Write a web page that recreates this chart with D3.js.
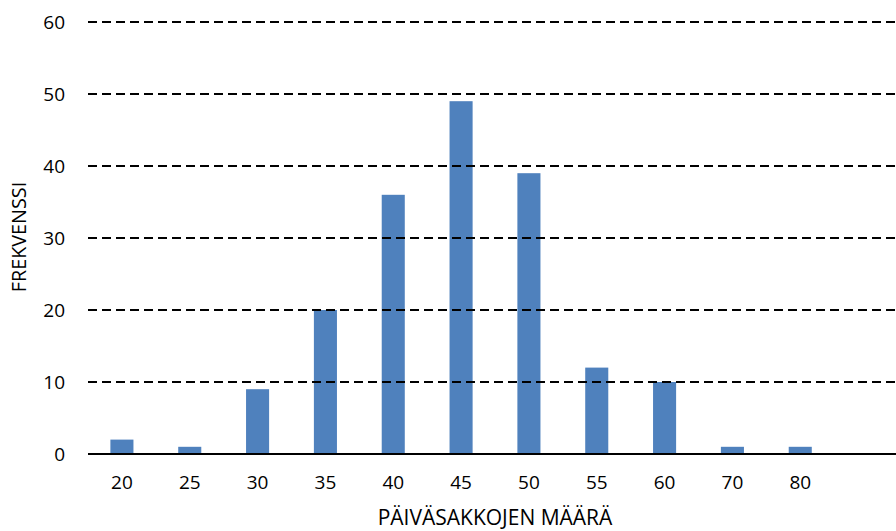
<!DOCTYPE html>
<html>
<head>
<meta charset="utf-8">
<script src="https://cdn.jsdelivr.net/npm/d3@7"></script>
<style>
  body { margin: 0; background: #fff; }
  svg { display: block; font-family: "Open Sans", sans-serif; }
</style>
</head>
<body>
<div id="chart"></div>
<script>
// data
var categories = ['20', '25', '30', '35', '40', '45', '50', '55', '60', '70', '80', ''];
var frequencies = [2, 1, 9, 20, 36, 49, 39, 12, 10, 1, 1, 0];
var yTicks = [0, 10, 20, 30, 40, 50, 60];

var width = 896
  , height = 531
  , margin = { top: 22, right: -6, bottom: 77, left: 88 }
;

var svg = d3.select('#chart').append('svg')
    .attr('width', width)
    .attr('height', height);

var x = d3.scaleBand()
    .domain(categories)
    .range([margin.left, width - margin.right])
    .paddingInner(0.66)
    .paddingOuter(0.33);

var y = d3.scaleLinear()
    .domain([0, 60])
    .range([height - margin.bottom, margin.top]);

// bars
svg.selectAll('rect.bar')
    .data(frequencies)
    .enter()
    .append('rect')
    .attr('class', 'bar')
    .attr('x', function (d, i) { return x(categories[i]); })
    .attr('width', x.bandwidth())
    .attr('y', function (d) { return y(d); })
    .attr('height', function (d) { return y(0) - y(d); })
    .attr('fill', '#4f81bd');

// dashed gridlines sit on top of the bars
svg.selectAll('line.grid')
    .data(yTicks.filter(function (t) { return t > 0; }))
    .enter()
    .append('line')
    .attr('class', 'grid')
    .attr('x1', margin.left)
    .attr('x2', width)
    .attr('y1', function (d) { return y(d); })
    .attr('y2', function (d) { return y(d); })
    .attr('stroke', '#000')
    .attr('stroke-width', 2)
    .attr('stroke-dasharray', '9,5');

// baseline
svg.append('line')
    .attr('x1', margin.left)
    .attr('x2', width)
    .attr('y1', y(0))
    .attr('y2', y(0))
    .attr('stroke', '#000')
    .attr('stroke-width', 2);

// y tick labels
var yAxis = d3.axisLeft(y).tickValues(yTicks).tickSize(0).tickPadding(23);
var gy = svg.append('g')
    .attr('transform', 'translate(' + margin.left + ',0)')
    .call(yAxis);
gy.select('.domain').remove();
gy.selectAll('text')
    .attr('font-size', 19)
    .attr('font-family', '"Open Sans", sans-serif')
    .attr('fill', '#000');

// x tick labels
var xAxis = d3.axisBottom(x).tickSize(0).tickPadding(22);
var gx = svg.append('g')
    .attr('transform', 'translate(0,' + y(0) + ')')
    .call(xAxis);
gx.select('.domain').remove();
gx.selectAll('text')
    .attr('font-size', 19)
    .attr('font-family', '"Open Sans", sans-serif')
    .attr('fill', '#000');

// axis titles
svg.append('text')
    .attr('x', (margin.left + width - margin.right) / 2)
    .attr('y', 525)
    .attr('text-anchor', 'middle')
    .attr('font-size', 21)
    .text('PÄIVÄSAKKOJEN MÄÄRÄ');

svg.append('text')
    .attr('transform', 'translate(26,237) rotate(-90)')
    .attr('text-anchor', 'middle')
    .attr('font-size', 19.8)
    .text('FREKVENSSI');
</script>
</body>
</html>
